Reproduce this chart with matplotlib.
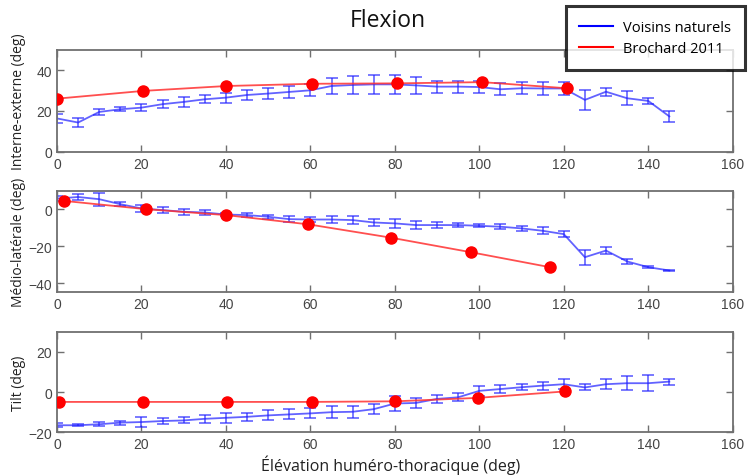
import numpy as np
import matplotlib
matplotlib.use('Agg')
import matplotlib.pyplot as plt
from matplotlib.lines import Line2D

# Voisins naturels: mean +/- sd every 5 deg of elevation
elev = np.arange(0, 150, 5)

ie_mean = [16.3, 14.3, 19.5, 20.8, 21.6, 23.3, 24.4, 25.7, 26.5, 27.8,
           28.5, 29.3, 30.1, 32.2, 32.7, 33.0, 33.0, 32.5, 31.9, 31.9,
           31.7, 30.6, 31.1, 31.0, 31.0, 25.4, 29.4, 26.2, 24.9, 17.3]
ie_sd = [2.0, 2.2, 1.3, 1.0, 1.8, 2.0, 2.4, 2.0, 2.4, 2.4,
         2.8, 2.8, 3.0, 4.0, 4.5, 4.5, 4.5, 4.0, 3.0, 3.0,
         3.0, 3.0, 3.0, 3.0, 3.0, 5.0, 2.0, 3.5, 1.5, 2.5]

ml_mean = [5.7, 6.6, 5.4, 2.7, 0.4, -0.5, -1.4, -1.8, -2.9, -3.2,
           -4.1, -5.4, -5.6, -5.6, -5.9, -7.2, -7.7, -8.6, -8.6, -8.6,
           -9.0, -9.5, -10.4, -11.7, -13.5, -26.0, -22.4, -28.3, -31.4, -33.2]
ml_sd = [1.5, 1.5, 3.5, 1.0, 2.0, 1.5, 1.5, 1.2, 1.0, 1.0,
         1.2, 1.5, 1.5, 2.0, 2.0, 2.0, 2.5, 2.0, 1.5, 1.0,
         0.8, 1.3, 1.5, 1.8, 1.5, 4.0, 2.0, 1.5, 0.5, 0.5]

tilt_mean = [-16.5, -16.5, -16.0, -15.2, -14.9, -14.4, -14.1, -13.3, -12.8, -12.3,
             -11.6, -11.1, -10.6, -10.0, -9.8, -8.5, -5.7, -5.4, -3.4, -2.6,
             0.6, 1.5, 2.4, 3.2, 3.9, 2.3, 3.9, 4.4, 4.4, 5.2]
tilt_sd = [1.0, 0.5, 1.0, 1.0, 2.5, 1.5, 1.5, 2.0, 2.5, 2.0,
           2.5, 2.5, 2.5, 3.0, 3.0, 2.5, 3.5, 2.5, 2.0, 2.0,
           2.5, 2.0, 1.5, 2.0, 2.5, 1.5, 2.5, 3.5, 4.0, 1.5]

# Brochard 2011
ie_ref_x = [0, 20.4, 40.1, 60.4, 80.5, 100.7, 120.7]
ie_ref_y = [26.0, 29.8, 32.2, 33.3, 33.5, 34.1, 31.1]
ml_ref_x = [1.6, 21.1, 40.0, 59.5, 79.0, 98.0, 116.7]
ml_ref_y = [4.5, 0.0, -3.2, -8.2, -15.4, -23.3, -31.4]
tilt_ref_x = [0.4, 20.3, 40.2, 60.3, 80.1, 99.6, 120.2]
tilt_ref_y = [-4.9, -4.9, -4.9, -4.9, -4.6, -2.9, 0.3]

panels = [
    (ie_mean, ie_sd, ie_ref_x, ie_ref_y, 'Interne-externe (deg)', (0, 50), [0, 20, 40]),
    (ml_mean, ml_sd, ml_ref_x, ml_ref_y, 'Médio-latérale (deg)', (-45, 10), [-40, -20, 0]),
    (tilt_mean, tilt_sd, tilt_ref_x, tilt_ref_y, 'Tilt (deg)', (-20, 30), [-20, 0, 20]),
]

W, H = 748, 477
fig = plt.figure(figsize=(W / 100, H / 100), dpi=100)
tops = [50.7, 191.7, 332.7]
bots = [152.7, 293.3, 433.3]
left, right = 57, 732.7

label_font = ['Open Sans', 'DejaVu Sans']
tick_color = '#444444'
spine_color = '#707070'

for (m, sd, rx, ry, ylab, ylim, yticks), t, b in zip(panels, tops, bots):
    ax = fig.add_axes([left / W, 1 - b / H, (right - left) / W, (b - t) / H])
    ax.errorbar(elev, m, yerr=sd, color='#2020ff', ecolor='#2020ff', elinewidth=1.2,
                capsize=4.5, capthick=1.2, lw=1.3, alpha=0.7, zorder=2)
    ax.plot(rx, ry, '-', color='#ff3030', lw=1.3, alpha=0.85, zorder=3)
    ax.plot(rx, ry, 'o', color='red', markersize=8, zorder=4)
    ax.set_xlim(0, 160)
    ax.set_ylim(*ylim)
    ax.set_xticks(range(0, 161, 20))
    ax.set_yticks(yticks)
    ax.tick_params(direction='in', top=True, right=True, length=5, width=1,
                   colors=spine_color, labelcolor=tick_color, labelsize=10)
    for lbl in ax.get_xticklabels() + ax.get_yticklabels():
        lbl.set_family('Liberation Sans')
    for s in ax.spines.values():
        s.set_color(spine_color)
        s.set_linewidth(1.3)
    ax.set_ylabel(ylab, family=label_font, fontsize=10, color='#222222')
    ax.yaxis.set_label_coords((26 - left) / (right - left), 0.5)

fig.text(388 / W, 1 - 20.7 / H, 'Flexion', family=label_font, fontsize=16.5,
         ha='center', va='center', color='#111111')
fig.text(391 / W, 1 - 465 / H, 'Élévation huméro-thoracique (deg)', family=label_font,
         fontsize=11.5, ha='center', va='center', color='#222222')

handles = [Line2D([0], [0], color='blue', lw=1.5), Line2D([0], [0], color='red', lw=1.5)]
leg = fig.legend(handles, ['Voisins naturels', 'Brochard 2011'],
                 loc='upper right', bbox_to_anchor=(745 / W, 1 - 7 / H), borderaxespad=0,
                 prop={'family': label_font, 'size': 10.5}, frameon=True, fancybox=False,
                 handlelength=2.3, borderpad=0.95, labelspacing=0.4, handletextpad=0.7)
leg.get_frame().set_edgecolor('black')
leg.get_frame().set_linewidth(2.2)
leg.set_zorder(10)

fig.savefig('out.png', dpi=100, facecolor='white')
